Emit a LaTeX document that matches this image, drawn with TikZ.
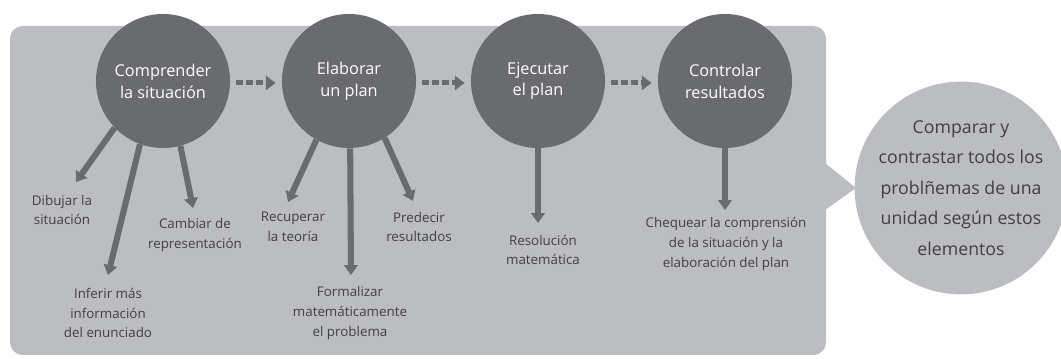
\documentclass[tikz,border=0pt]{standalone}
\usepackage{fontspec}
\setmainfont{Open Sans}
\usetikzlibrary{arrows.meta}

\definecolor{panelgray}{HTML}{BCBDC0}
\definecolor{stepgray}{HTML}{6A6B6F}
\definecolor{notegray}{HTML}{404040}

\begin{document}
\begin{tikzpicture}[x=0.025cm,y=-0.025cm,
  stepcircle/.style={circle,fill=stepgray,minimum size=3.35cm,inner sep=0pt,text=white,align=center,font=\fontsize{11.6}{15.6}\selectfont},
  note/.style={text=notegray,align=center,inner sep=0pt,font=\fontsize{9.5}{13.9}\selectfont},
  sub/.style={draw=stepgray,line width=4.3pt,-{Triangle[length=7pt,width=9.5pt]}},
  flow/.style={draw=stepgray,line width=3.6pt,dash pattern=on 5pt off 2.1pt,-{Triangle[length=7pt,width=10pt]},shorten <=4.3pt,shorten >=4.3pt}]
\useasboundingbox (0,0) rectangle (1061,359);

% panel with its pointer
\fill[panelgray,rounded corners=9pt] (10,26) rectangle (826,355);
\fill[panelgray] (825,163) -- (856,188) -- (825,210) -- cycle;

% summary circle
\node (R) [circle,fill=panelgray,minimum size=5.3cm,inner sep=0pt,note,font=\fontsize{12.6}{21.7}\selectfont] at (961,188) {Comparar y\\contrastar todos los\\problñemas de una\\unidad según estos\\elementos};

% the four steps
\node (C1) [stepcircle] at (163,81) {Comprender\\la situación};
\node (C2) [stepcircle] at (349,81) {Elaborar\\un plan};
\node (C3) [stepcircle] at (538,81) {Ejecutar\\el plan};
\node (C4) [stepcircle] at (725,81) {Controlar\\resultados};

\draw[flow] ([yshift=-1.4pt]C1.east) -- ([yshift=-1.4pt]C2.west);
\draw[flow] ([yshift=-1.4pt]C2.east) -- ([yshift=-1.4pt]C3.west);
\draw[flow] ([yshift=-1.4pt]C3.east) -- ([yshift=-1.4pt]C4.west);

% tips of the arrows
\coordinate (T11) at (76,182);
\coordinate (T12) at (108,275);
\coordinate (T13) at (193,208);
\coordinate (T21) at (288,202);
\coordinate (T22) at (351,275);
\coordinate (T23) at (413,201);
\coordinate (T31) at (538,223);
\coordinate (T41) at (725,210);

\draw[sub] (C1.-136) -- (T11);
\draw[sub] (C1.-110) -- (T12);
\draw[sub] (C1.-75) -- (T13);
\draw[sub] (C2.-119) -- (T21);
\draw[sub] (C2.-89) -- (T22);
\draw[sub] (C2.-58) -- (T23);
\draw[sub] (C3.-90) -- (T31);
\draw[sub] (C4.-90) -- (T41);

% what each step means
\node (L11) [note] at (62,210) {Dibujar la\\situación};
\node (L12) [note] at (108,313) {Inferir más\\información\\del enunciado};
\node (L13) [note] at (195,235) {Cambiar de\\representación};
\node (L21) [note] at (293,227) {Recuperar\\la teoría};
\node (L22) [note] at (350,313) {Formalizar\\matemáticamente\\el problema};
\node (L23) [note] at (419,227) {Predecir\\resultados};
\node (L31) [note] at (543,250) {Resolución\\matemática};
\node (L41) [note] at (726,244) {Chequear la comprensión\\de la situación y la\\elaboración del plan};

\end{tikzpicture}
\end{document}
